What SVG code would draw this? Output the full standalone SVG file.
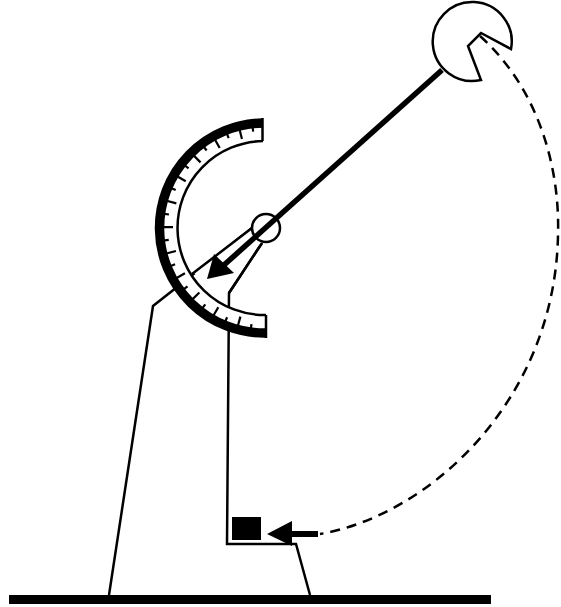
<svg xmlns="http://www.w3.org/2000/svg" width="561" height="607" viewBox="0 0 561 607">
<defs>
<line id="s" x1="160" y1="228" x2="168" y2="228" stroke="#000" stroke-width="2.200"/>
<line id="l" x1="160" y1="228" x2="173" y2="228" stroke="#000" stroke-width="2.200"/>
</defs>
<style>.o{fill:none;stroke:#000;stroke-width:2.500}</style>
<rect width="561" height="607" fill="#fff"/>
<g id="base"><rect x="9" y="595" width="482" height="9" fill="#000"/></g>
<g id="stand"><path class="o" d="M252 228L153 306L109 595M262 243L229 293L227 544H296L310 595"/></g>
<g id="scale">
<path d="M263 123A105 105 0 0 0 266 333L266 315A87 87 0 0 1 263 141Z" fill="#fff" stroke="none"/>
<path fill="none" stroke="#000" stroke-width="9.500" d="M263 123A105 105 0 0 0 266 333"/>
<path class="o" d="M263 141A87 87 0 0 0 266 315M262.500 118V141M266 315V338"/>
<g>
<use href="#s" transform="rotate(-82 265 228)"/><use href="#l" transform="rotate(-74.500 265 228)"/>
<use href="#s" transform="rotate(-67 265 228)"/><use href="#l" transform="rotate(-59.500 265 228)"/>
<use href="#s" transform="rotate(-52 265 228)"/><use href="#l" transform="rotate(-44.500 265 228)"/>
<use href="#s" transform="rotate(-37 265 228)"/><use href="#l" transform="rotate(-29.500 265 228)"/>
<use href="#s" transform="rotate(-22 265 228)"/><use href="#l" transform="rotate(-14.500 265 228)"/>
<use href="#s" transform="rotate(-7 265 228)"/><use href="#l" transform="rotate(0.500 265 228)"/>
<use href="#s" transform="rotate(8 265 228)"/><use href="#l" transform="rotate(15.500 265 228)"/>
<use href="#s" transform="rotate(23 265 228)"/><use href="#l" transform="rotate(30.500 265 228)"/>
<use href="#s" transform="rotate(38 265 228)"/><use href="#l" transform="rotate(45.500 265 228)"/>
<use href="#s" transform="rotate(53 265 228)"/><use href="#l" transform="rotate(60.500 265 228)"/>
<use href="#s" transform="rotate(68 265 228)"/><use href="#l" transform="rotate(75.500 265 228)"/>
<use href="#s" transform="rotate(83 265 228)"/>
</g>
</g>
<g id="channel"><path d="M252 228L193 273L207 279L262 243Z" fill="#fff"/><path class="o" d="M252 228L192 274M262 243L229 293"/></g>
<g id="pivot"><circle cx="266" cy="228" r="14" fill="#fff" stroke="#000" stroke-width="2.500"/></g>
<g id="bob"><path class="o" d="M481 80A39.500 39.500 0 1 1 511 49L481 33L468 46L481 80Z" fill="#fff"/></g>
<g id="weight"><rect x="232" y="517" width="29" height="23" fill="#000"/></g>
<g id="connectors">
<path d="M442 70L224 265" stroke="#000" stroke-width="5.500" fill="none"/>
<path d="M207 279L214 254L234 273Z" fill="#000"/>
<path d="M480 36C540 90 560 170 558 235C555 400 430 515 320 534" fill="none" stroke="#000" stroke-width="2.500" stroke-dasharray="10 7"/>
<path d="M318 534H285" stroke="#000" stroke-width="6" fill="none"/>
<path d="M267 534L292 521V546Z" fill="#000"/>
</g>
</svg>
